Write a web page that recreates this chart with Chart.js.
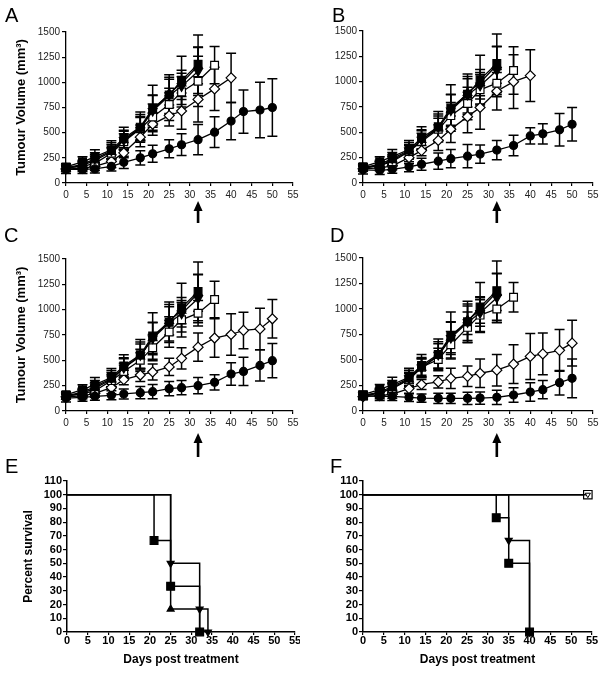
<!DOCTYPE html>
<html><head><meta charset="utf-8">
<script src="https://cdn.jsdelivr.net/npm/chart.js@4.4.1/dist/chart.umd.min.js"></script>
<style>
html,body{margin:0;padding:0;background:#fff;}
body{position:relative;width:604px;height:674px;overflow:hidden;}
canvas{position:absolute;}
</style></head>
<body>
<canvas id="cA" width="300" height="225" style="left:0;top:0"></canvas>
<canvas id="cB" width="304" height="225" style="left:300px;top:0"></canvas>
<canvas id="cC" width="300" height="233" style="left:0;top:225px"></canvas>
<canvas id="cD" width="304" height="233" style="left:300px;top:225px"></canvas>
<canvas id="cE" width="300" height="216" style="left:0;top:458px"></canvas>
<canvas id="cF" width="304" height="216" style="left:300px;top:458px"></canvas>
<script>
// ---------- DATA ----------
const days = [0,4,7,11,14,18,21,25,28,32,36,40,43,47,50];

// control groups (same in all growth panels)
const filledSquare    = [160,210,260,330,445,555,740,875,1020,1180];
const filledSquareErr = [30,50,70,90,110,150,230,200,240,290];
const filledInvTri    = [150,185,240,320,425,550,715,870,960,1110];
const filledInvTriErr = [25,40,60,80,100,130,160,180,130,240];
const filledTri       = [145,175,225,310,425,540,720,890,990,1165];
const filledTriErr    = [25,40,55,70,90,120,150,140,130,180];

// Panel A
const openSquareA    = [150,165,195,295,410,540,655,780,905,1010,1170];
const openSquareAErr = [25,35,50,60,80,110,130,160,150,250,185];
const diamondA       = [140,145,165,215,300,455,585,670,715,830,935,1045];
const diamondAErr    = [25,30,40,60,50,95,110,105,180,225,215,245];
const circleA        = [135,135,140,165,205,250,290,340,380,430,505,615,710,725,750];
const circleAErr     = [40,40,40,45,60,70,85,90,108,150,152,185,215,275,285];

// Panel B
const openSquareB    = [150,175,210,310,410,530,665,785,920,985,1110];
const openSquareBErr = [25,35,50,60,80,110,130,160,150,135,235];
const diamondB       = [140,150,170,250,320,420,530,655,745,905,1000,1060];
const diamondBErr    = [25,30,40,60,50,100,130,160,215,185,265,255];
const circleB        = [130,125,135,160,185,215,240,265,285,325,370,465,485,525,580];
const circleBErr     = [40,40,40,50,60,80,90,115,90,95,100,80,100,160,165];

// Panel C
const openSquareC    = [150,170,200,300,390,500,625,780,900,965,1100];
const openSquareCErr = [25,35,50,60,80,110,130,150,170,125,180];
const diamondC       = [140,150,175,230,310,355,385,435,520,630,720,755,795,810,910];
const diamondCErr    = [25,30,40,60,50,65,80,85,105,140,190,205,180,205,190];
const circleC        = [128,135,145,155,168,181,191,220,230,250,283,365,391,450,497];
const circleCErr     = [40,40,40,45,50,60,70,70,70,80,75,110,140,155,170];

// Panel D
const openSquareD    = [150,180,220,310,430,505,650,820,940,1000,1115];
const openSquareDErr = [25,35,50,60,80,110,130,150,170,135,145];
const diamondD       = [140,150,165,220,260,285,320,340,370,400,460,535,560,595,665];
const diamondDErr    = [25,30,40,50,50,60,100,100,140,155,190,225,205,205,225];
const circleD        = [150,144,144,134,127,124,124,124,127,134,157,186,209,278,320];
const circleDErr     = [40,40,40,40,40,50,50,60,60,70,70,90,90,120,190];

// Survival E
const survEsqDays  = [0,21,25,32];   const survEsq  = [100,66.7,33.3,0];
const survEinvDays = [0,25,32,34];   const survEinv = [100,50,16.7,0];
const survEtriDays = [0,25,32];      const survEtri = [100,16.7,0];
// Survival F
const survFsqDays  = [0,32,35,40];   const survFsq  = [100,83.3,50,0];
const survFinvDays = [0,35,40];      const survFinv = [100,66.7,0];
const survFliveDays = [0,54];        const survFlive = [100,100];

const treatmentDay = 32;
const volumeTitle = 'Tumour Volume (mm\u00B3)';
const survivalTitle = 'Percent survival';
const daysTitle = 'Days post treatment';

// ---------- HELPERS ----------
const FONT = '"Liberation Sans", Arial, Helvetica, sans-serif';
Chart.defaults.font.family = FONT;
Chart.defaults.color = '#000';

function pts(xs, ys){ return ys.map((v,i)=>({x:xs[i], y:v})); }

const STY = {
  fSq:  {pointStyle:'rect', pointRadius:5.5, pointBackgroundColor:'#000'},
  fInv: {pointStyle:'triangle', rotation:180, pointRadius:5, pointBackgroundColor:'#000'},
  fTri: {pointStyle:'triangle', pointRadius:5, pointBackgroundColor:'#000'},
  oSq:  {pointStyle:'rect', pointRadius:5.5, pointBackgroundColor:'#fff'},
  oDia: {pointStyle:'rectRot', pointRadius:5, pointBackgroundColor:'#fff'},
  fCir: {pointStyle:'circle', pointRadius:4, pointBackgroundColor:'#000'}
};

function growthDs(ys, errs, sty){
  return Object.assign({
    data: pts(days, ys), errors: errs,
    borderColor:'#000', borderWidth:1.3, pointBorderColor:'#000', pointBorderWidth:1.2,
    fill:false, clip:false, tension:0
  }, sty);
}

const errorBars = {
  id:'errorBars',
  beforeDatasetsDraw(chart){
    const {ctx} = chart; const x = chart.scales.x, y = chart.scales.y;
    ctx.save(); ctx.strokeStyle='#000'; ctx.lineWidth=1.5;
    chart.data.datasets.forEach(ds=>{
      if(!ds.errors) return;
      ds.data.forEach((p,i)=>{
        const e = ds.errors[i]; if(e==null) return;
        const px = x.getPixelForValue(p.x);
        const yt = y.getPixelForValue(p.y+e), yb = y.getPixelForValue(Math.max(p.y-e,0));
        const c = 5;
        ctx.beginPath();
        ctx.moveTo(px,yt); ctx.lineTo(px,yb);
        ctx.moveTo(px-c,yt); ctx.lineTo(px+c,yt);
        ctx.moveTo(px-c,yb); ctx.lineTo(px+c,yb);
        ctx.stroke();
      });
    });
    ctx.restore();
  }
};

const deco = {
  id:'deco',
  afterDraw(chart, args, o){
    const ctx = chart.ctx; ctx.save();
    ctx.fillStyle='#000';
    ctx.font = '20px ' + FONT; ctx.textBaseline='alphabetic'; ctx.textAlign='left';
    ctx.fillText(o.letter, o.lx, o.ly);
    if(o.arrowTop!=null){
      const ax = chart.scales.x.getPixelForValue(treatmentDay);
      ctx.beginPath();
      ctx.moveTo(ax, o.arrowTop); ctx.lineTo(ax-4.5, o.arrowTop+10); ctx.lineTo(ax+4.5, o.arrowTop+10);
      ctx.closePath(); ctx.fill();
      ctx.fillRect(ax-1.3, o.arrowTop+9, 2.6, o.arrowBottom-o.arrowTop-9);
    }
    ctx.restore();
  }
};

function fixY(w){ return s=>{ s.width=w; s.paddingTop=s.paddingBottom=s.paddingLeft=s.paddingRight=0; }; }
function fixX(h){ return s=>{ s.height=h; s.paddingTop=s.paddingBottom=s.paddingLeft=s.paddingRight=0; }; }
const plainNum = v => String(v);

function makeChart(id, cfg){
  const cw = document.getElementById(id).width, ch = document.getElementById(id).height;
  const surv = cfg.survival;
  const tickFont = surv ? {size:11, weight:'bold'} : {size:10};
  const tickColor = surv ? '#000' : '#222';
  const scales = {
    x: {
      type:'linear', min:0, max:55,
      ticks:{stepSize:5, font:tickFont, color:tickColor, padding: surv ? -1 : 3, maxRotation:0, autoSkip:false, callback:plainNum},
      grid:{display:true, drawOnChartArea:false, drawTicks:true, tickLength: 3, color:'#000', lineWidth:1.2},
      border:{display:true, color:'#000', width: surv?1.5:1.3},
      title: cfg.xTitle ? {display:true, text:cfg.xTitle, font:{size:12, weight:'bold'}, color:'#000', padding:{top:0,bottom:7}} : {display:false},
      afterFit: fixX(ch - cfg.B)
    },
    y: {
      type:'linear', min:0, max: surv?110:1500,
      ticks:{stepSize: surv?10:250, font:tickFont, color:tickColor, padding: surv?1:2, autoSkip:false, callback:plainNum},
      grid:{display:true, drawOnChartArea:false, drawTicks:true, tickLength:4, color:'#000', lineWidth:1.2},
      border:{display:true, color:'#000', width: surv?1.5:1.3},
      title: cfg.yTitle ? {display:true, text:cfg.yTitle, font:{size: surv?12:13, weight:'bold'}, color:'#000', padding:{top: cfg.yTitlePad, bottom:0}} : {display:false},
      afterFit: fixY(cfg.L)
    }
  };
  return new Chart(document.getElementById(id), {
    type:'line',
    data:{datasets: cfg.datasets},
    options:{
      responsive:false, animation:false, events:[],
      layout:{autoPadding:false, padding:{left:0, top:cfg.T, right:cw-cfg.R, bottom:0}},
      plugins:{legend:{display:false}, tooltip:{enabled:false},
        deco:{letter:cfg.letter, lx:cfg.lx, ly:cfg.ly, arrowTop:cfg.arrowTop, arrowBottom:cfg.arrowBottom}},
      scales
    },
    plugins:[errorBars, deco]
  });
}

function growthSets(oSq, oSqE, dia, diaE, cir, cirE){
  return [
    growthDs(cir, cirE, STY.fCir),
    growthDs(filledSquare, filledSquareErr, STY.fSq),
    growthDs(filledInvTri, filledInvTriErr, STY.fInv),
    growthDs(filledTri, filledTriErr, STY.fTri),
    growthDs(oSq, oSqE, STY.oSq),
    growthDs(dia, diaE, STY.oDia)
  ];
}

// ---------- PANELS ----------
makeChart('cA', {L:66, T:32, R:293, B:183, yTitle:volumeTitle, yTitlePad:14,
  letter:'A', lx:5, ly:22, arrowTop:201, arrowBottom:223,
  datasets: growthSets(openSquareA, openSquareAErr, diamondA, diamondAErr, circleA, circleAErr)});
makeChart('cB', {L:63, T:31, R:293, B:183,
  letter:'B', lx:32, ly:22, arrowTop:201, arrowBottom:223,
  datasets: growthSets(openSquareB, openSquareBErr, diamondB, diamondBErr, circleB, circleBErr)});
makeChart('cC', {L:66, T:34, R:293, B:186, yTitle:volumeTitle, yTitlePad:14,
  letter:'C', lx:4, ly:17, arrowTop:208, arrowBottom:232,
  datasets: growthSets(openSquareC, openSquareCErr, diamondC, diamondCErr, circleC, circleCErr)});
makeChart('cD', {L:63, T:33, R:293, B:186,
  letter:'D', lx:30, ly:17, arrowTop:208, arrowBottom:232,
  datasets: growthSets(openSquareD, openSquareDErr, diamondD, diamondDErr, circleD, circleDErr)});

function survDs(xs, ys, sty, radii){
  return Object.assign({
    data: pts(xs, ys), stepped:'before',
    borderColor:'#000', borderWidth:1.5, pointBorderColor:'#000', pointBorderWidth:1.2,
    pointRadius: radii, fill:false, clip:false
  }, sty);
}

makeChart('cE', {survival:true, L:67, T:23, R:295, B:174, yTitle:survivalTitle, yTitlePad:21, xTitle:daysTitle,
  letter:'E', lx:5, ly:15,
  datasets:[
    survDs(survEsqDays, survEsq, {pointStyle:'rect', pointBackgroundColor:'#000'}, [0,5.5,5.5,5.5]),
    survDs(survEinvDays, survEinv, {pointStyle:'triangle', rotation:180, pointBackgroundColor:'#000'}, [0,4,4,4]),
    survDs(survEtriDays, survEtri, {pointStyle:'triangle', pointBackgroundColor:'#000'}, [0,4,4])
  ]});
makeChart('cF', {survival:true, L:63, T:23, R:292, B:174, xTitle:daysTitle,
  letter:'F', lx:30, ly:15,
  datasets:[
    survDs(survFsqDays, survFsq, {pointStyle:'rect', pointBackgroundColor:'#000'}, [0,5.5,5.5,5.5]),
    survDs(survFinvDays, survFinv, {pointStyle:'triangle', rotation:180, pointBackgroundColor:'#000'}, [0,4,4]),
    survDs(survFliveDays, survFlive, {pointStyle:'triangle', rotation:180, pointBackgroundColor:'#fff', pointBorderWidth:1}, [0,3]),
    survDs(survFliveDays, survFlive, {pointStyle:'rect', pointBackgroundColor:'#fff'}, [0,6])
  ]});
</script>
</body></html>
